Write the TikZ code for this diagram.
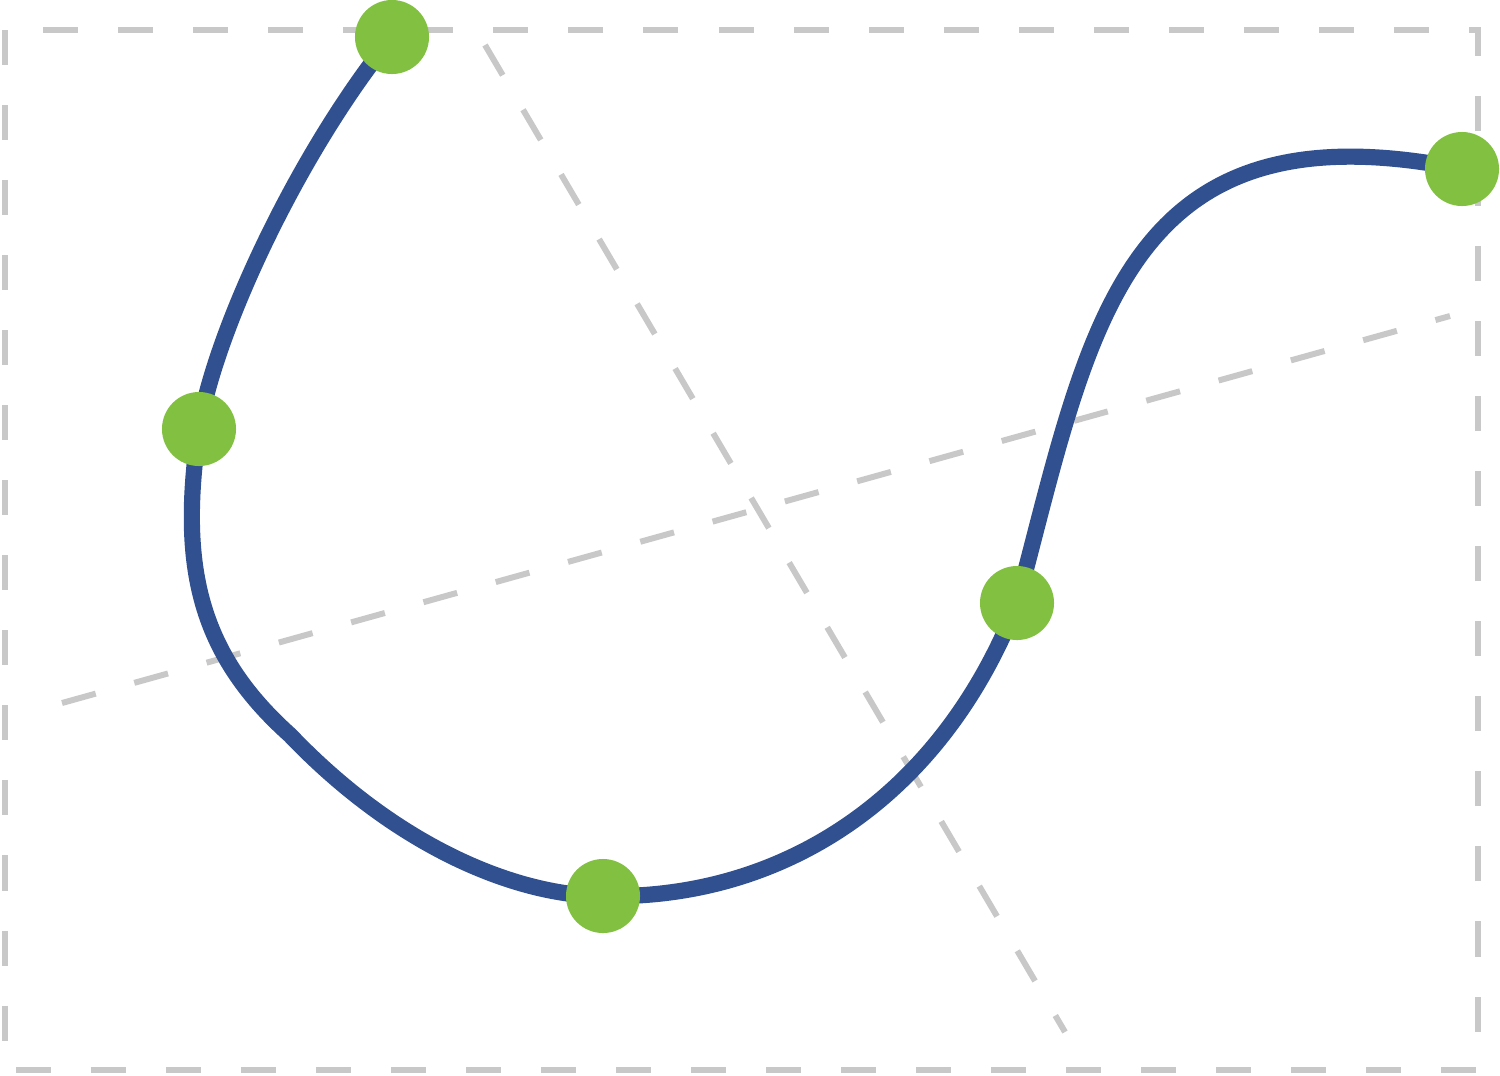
\documentclass[tikz,border=0pt]{standalone}
\usepackage{tikz}
\definecolor{curveblue}{HTML}{30508F}
\definecolor{knotgreen}{HTML}{82C042}
\definecolor{guidegray}{HTML}{C8C8C8}
\begin{document}
\begin{tikzpicture}[x=0.01cm,y=-0.01cm]
        \tikzstyle{knot}=[circle, fill=knotgreen, inner sep=0pt, minimum size=0.74cm]
        \tikzstyle{guide}=[guidegray, line width=1.7pt, dash pattern=on 1cm*0.35 off 1cm*0.4]
        \tikzstyle{curve}=[curveblue, line width=4.6pt]
        \useasboundingbox (0,0) rectangle (1500,1075);

        \coordinate (tl) at (5,30);
        \coordinate (br) at (1478,1070);
        \coordinate (a1) at (485,45);
        \coordinate (a2) at (1065,1032);
        \coordinate (b1) at (62,703);
        \coordinate (b2) at (1450,316);

        \draw[guide] (tl) rectangle (br);
        \draw[guide] (a1) -- (a2);
        \draw[guide] (b1) -- (b2);

        \coordinate (p1) at (392,37);
        \coordinate (p2) at (199,429);
        \coordinate (p3) at (603,896);
        \coordinate (p4) at (1017,603);
        \coordinate (p5) at (1462,169);

        \draw[curve] (p1) .. controls (300,150) and (215,330) .. (p2)
                          .. controls (180,560) and (195,650) .. (290,735)
                          .. controls (400,850) and (520,896) .. (p3)
                          .. controls (780,900) and (940,800) .. (p4)
                          .. controls (1090,330) and (1120,100) .. (p5);

        \node[knot] (k1) at (p1) {};
        \node[knot] (k2) at (p2) {};
        \node[knot] (k3) at (p3) {};
        \node[knot] (k4) at (p4) {};
        \node[knot] (k5) at (p5) {};
\end{tikzpicture}
\end{document}
